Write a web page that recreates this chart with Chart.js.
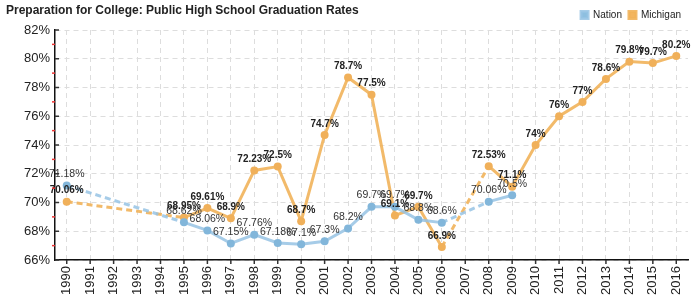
<!DOCTYPE html>
<html><head><meta charset="utf-8">
<script src="https://cdn.jsdelivr.net/npm/chart.js@4"></script>
<style>html,body{margin:0;padding:0;background:#fff}#wrap{width:700px;height:300px;position:relative}</style>
</head><body><div id="wrap"><canvas id="c" width="700" height="300"></canvas></div>
<script>
const years = ["1990","1991","1992","1993","1994","1995","1996","1997","1998","1999","2000","2001","2002","2003","2004","2005","2006","2007","2008","2009","2010","2011","2012","2013","2014","2015","2016"];
const nation = [71.18,null,null,null,null,68.62,68.06,67.15,67.76,67.18,67.1,67.3,68.2,69.7,69.7,68.8,68.6,null,70.06,70.5,null,null,null,null,null,null,null];
const michigan = [70.06,null,null,null,null,68.95,69.61,68.9,72.23,72.5,68.7,74.7,78.7,77.5,69.1,69.7,66.9,null,72.53,71.1,74,76,77,78.6,79.8,79.7,80.2];
const yTicks = [66,68,70,72,74,76,78,80,82];
const titleText = "Preparation for College: Public High School Graduation Rates";

const FONT = "'Liberation Sans', Arial, sans-serif";
const gapDash = (ctx) => (ctx.p0.skip || ctx.p1.skip) ? [6,4] : undefined;

const labelPlugin = {
  id: 'valueLabels',
  afterDatasetsDraw(chart) {
    const c = chart.ctx;
    chart.data.datasets.forEach((ds, di) => {
      const meta = chart.getDatasetMeta(di);
      c.save();
      c.textAlign = 'center';
      c.textBaseline = 'bottom';
      if (di === 0) { c.font = "10.5px " + FONT; c.fillStyle = '#333'; }
      else { c.font = "bold 10px " + FONT; c.fillStyle = '#222'; }
      meta.data.forEach((pt, i) => {
        const v = ds.data[i];
        if (v === null || v === undefined) return;
        c.fillText(v + '%', pt.x, pt.y - 6);
      });
      c.restore();
    });
  }
};

const decoPlugin = {
  id: 'deco',
  afterDraw(chart) {
    const c = chart.ctx;
    c.save();
    c.font = "bold 12px " + FONT;
    c.fillStyle = '#222';
    c.textBaseline = 'middle';
    c.textAlign = 'left';
    c.fillText(titleText, 6, 11);
    const ys = chart.scales.y;
    const x0 = ys.right;
    c.lineWidth = 1.5;
    for (let v = ys.min + 1; v < ys.max; v += 2) {
      const y = ys.getPixelForValue(v);
      c.strokeStyle = '#e33';
      c.beginPath(); c.moveTo(x0 - 3, y); c.lineTo(x0, y); c.stroke();
    }
    for (let v = ys.min; v <= ys.max; v += 2) {
      const y = ys.getPixelForValue(v);
      c.strokeStyle = '#333';
      c.beginPath(); c.moveTo(x0, y); c.lineTo(x0 + 4, y); c.stroke();
    }
    const xs = chart.scales.x;
    const yb = xs.top;
    c.strokeStyle = '#333';
    for (let i = 0; i < years.length; i++) {
      const x = xs.getPixelForValue(i);
      c.beginPath(); c.moveTo(x, yb); c.lineTo(x, yb + 4); c.stroke();
    }
    c.restore();
  }
};

new Chart(document.getElementById('c'), {
  type: 'line',
  data: {
    labels: years,
    datasets: [
      { label: 'Nation', data: nation, borderColor: 'rgba(150,195,228,0.85)', backgroundColor: '#8dbfe0',
        pointBackgroundColor: '#82b6da', pointBorderWidth: 0, pointRadius: 4, borderWidth: 3, spanGaps: true,
        segment: { borderDash: gapDash } },
      { label: 'Michigan', data: michigan, borderColor: 'rgba(241,178,90,0.9)', backgroundColor: '#f3b55f',
        pointBackgroundColor: '#f0b05a', pointBorderWidth: 0, pointRadius: 4, borderWidth: 3, spanGaps: true,
        segment: { borderDash: gapDash } }
    ]
  },
  options: {
    responsive: false,
    animation: false,
    layout: { padding: { top: 3, right: 12, left: 0, bottom: 0 } },
    plugins: {
      title: { display: false },
      tooltip: { enabled: false },
      legend: {
        position: 'top', align: 'end',
        labels: { boxWidth: 7, boxHeight: 7, padding: 7, color: '#222', font: { size: 10, family: FONT } }
      }
    },
    scales: {
      x: {
        offset: true,
        afterFit: (s) => { s.height = 40; },
        grid: { color: '#ddd', offset: false, drawTicks: false },
        border: { color: '#111', width: 1.5, dash: [5,4] },
        ticks: { minRotation: 90, maxRotation: 90, autoSkip: false, color: '#222', padding: 6, font: { size: 13, family: FONT } }
      },
      y: {
        min: 66, max: 82,
        afterFit: (s) => { s.width = 55; },
        afterBuildTicks: (s) => { s.ticks = yTicks.map(v => ({ value: v })); },
        grid: { color: '#ddd', drawTicks: false },
        border: { color: '#111', width: 1.5, dash: [5,4] },
        ticks: { color: '#222', padding: 5, font: { size: 13, family: FONT }, callback: v => v + '%' }
      }
    }
  },
  plugins: [labelPlugin, decoPlugin]
});
</script></body></html>
